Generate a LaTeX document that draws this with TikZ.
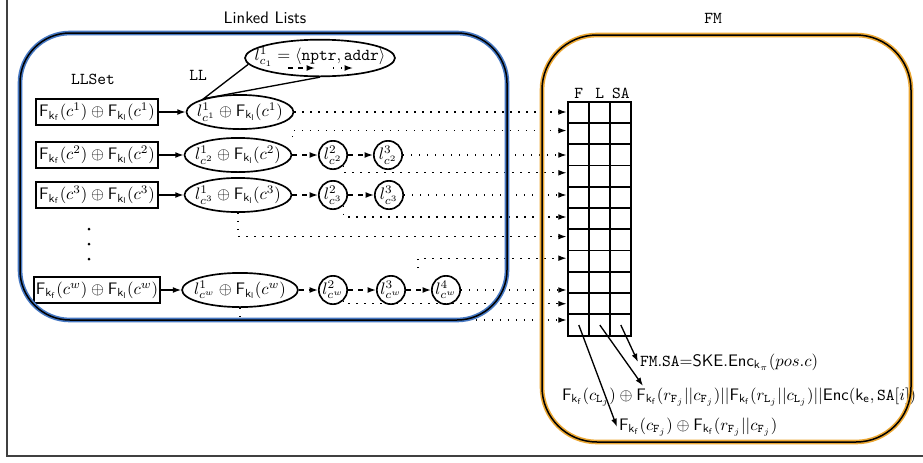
\documentclass[tikz,border=0pt]{standalone}
\usepackage{amsmath}
\usepackage{amsfonts}
\usepackage{tikz}
\usetikzlibrary{shapes.geometric,arrows.meta}

\definecolor{llblue}{RGB}{70,120,195}
\definecolor{fmorange}{RGB}{236,168,52}

\newcommand{\Fkf}{\mathsf{F}_{\mathsf{k}_{\mathsf{f}}}}
\newcommand{\Fkl}{\mathsf{F}_{\mathsf{k}_{\mathsf{l}}}}

\begin{document}
\begin{tikzpicture}[x=0.6pt,y=-0.6pt,>={Latex[length=5pt,width=3.5pt]},
    setbox/.style={draw,line width=1.1pt,minimum width=73pt,minimum height=16pt,inner sep=1pt},
    headnode/.style={ellipse,draw,line width=1pt,inner xsep=-3pt,inner ysep=0pt,minimum width=62pt,minimum height=20.5pt},
    listnode/.style={circle,draw,line width=1pt,inner sep=0pt,minimum size=17pt},
    cell/.style={draw,line width=1.1pt,minimum width=12.6pt,minimum height=12.76pt,inner sep=0pt,outer sep=0pt},
    link/.style={->,line width=0.8pt},
    nxt/.style={->,dashed,line width=0.8pt},
    ptr/.style={->,loosely dotted,line width=0.8pt,shorten >=1pt}]

  \useasboundingbox (0,0) rectangle (923,462);
  \draw[black!75,line width=0.7pt] (7,0) -- (7,456) -- (923,456);

  % titles
  \node (lltitle) at (265,18) {\textsf{Linked Lists}};
  \node (fmtitle) at (713,18) {\texttt{FM}};
  \node (llsettitle) at (93,79) {\texttt{LLSet}};
  \node (lltitle2) at (198,75) {\texttt{LL}};

  % LLSet entries
  \node[setbox] (b1) at (97,112) {$\Fkf(c^1)\oplus\Fkl(c^1)$};
  \node[setbox] (b2) at (97,155) {$\Fkf(c^2)\oplus\Fkl(c^2)$};
  \node[setbox] (b3) at (97,195) {$\Fkf(c^3)\oplus\Fkl(c^3)$};
  \node[setbox] (bw) at (97,290) {$\Fkf(c^w)\oplus\Fkl(c^w)$};
  \foreach \y in {229,244,259}
    \fill (89,\y) circle (0.9pt);

  % list heads
  \node[headnode] (e1) at (240,112) {$l^1_{c^1}\oplus\Fkl(c^1)$};
  \node[headnode] (e2) at (238,155) {$l^1_{c^2}\oplus\Fkl(c^2)$};
  \node[headnode] (e3) at (238,195) {$l^1_{c^3}\oplus\Fkl(c^3)$};
  \node[headnode] (ew) at (240,290) {$l^1_{c^w}\oplus\Fkl(c^w)$};

  % list nodes
  \node[listnode] (l22) at (333,155) {$l^2_{c^2}$};
  \node[listnode] (l23) at (388,155) {$l^3_{c^2}$};
  \node[listnode] (l32) at (333,195) {$l^2_{c^3}$};
  \node[listnode] (l33) at (389,195) {$l^3_{c^3}$};
  \node[listnode] (lw2) at (333,290) {$l^2_{c^w}$};
  \node[listnode] (lw3) at (391,290) {$l^3_{c^w}$};
  \node[listnode] (lw4) at (446,290) {$l^4_{c^w}$};
  \coordinate (lwgap) at (418,268);

  % node layout
  \node[ellipse,draw,line width=1pt,minimum width=90pt,minimum height=22pt,
        inner xsep=-8pt,inner ysep=-2pt,text depth=5pt] (callout) at (320,58)
        {$l^1_{c_1} = \langle\mathtt{nptr},\mathtt{addr}\rangle$};
  \coordinate (np1) at ([shift={(-32,10)}]callout.center);
  \coordinate (np2) at ([shift={(-5,10)}]callout.center);
  \coordinate (ad1) at ([shift={(13,10)}]callout.center);
  \coordinate (ad2) at ([shift={(33,10)}]callout.center);
  \draw[nxt] (np1) -- (np2);
  \draw[ptr,shorten >=0pt] (ad1) -- (ad2);
  \draw[line width=0.8pt] (callout.185) -- (e1.160) -- (callout.south);

  \draw[link] (b1) -- (e1);
  \draw[link] (b2) -- (e2);
  \draw[link] (b3) -- (e3);
  \draw[link] (bw) -- (ew);
  \draw[nxt] (e2) -- (l22);
  \draw[nxt] (l22) -- (l23);
  \draw[nxt] (e3) -- (l32);
  \draw[nxt] (l32) -- (l33);
  \draw[nxt] (ew) -- (lw2);
  \draw[nxt] (lw2) -- (lw3);
  \draw[nxt] (lw3) -- (lw4);

  % FM table
  \foreach \r in {1,...,11}
    \foreach \c in {1,2,3}
      \node[cell] (fm-\r-\c) at ({578.8+21*(\c-1)},{112.3+21.27*(\r-1)}) {};
  \node[anchor=south,inner sep=1.5pt] (hF) at (fm-1-1.north) {\texttt{F}};
  \node[anchor=south,inner sep=1.5pt] (hL) at (fm-1-2.north) {\texttt{L}};
  \node[anchor=south,inner sep=1.5pt] (hSA) at (fm-1-3.north) {\texttt{SA}};

  \draw[ptr] (e1) -- (e1 -| fm-1-1.west);
  \draw[ptr] (e2.north -| e2.east) |- ([yshift=1.8pt]fm-2-1.west);
  \draw[ptr] (l23) -- (l23 -| fm-3-1.west);
  \draw[ptr] (l22.south east) |- ([yshift=2pt]fm-4-1.west);
  \draw[ptr] (l33) -- (l33 -| fm-5-1.west);
  \draw[ptr] (l32.south east) |- ([yshift=1pt]fm-6-1.west);
  \draw[ptr] (e3.south) |- ([yshift=2pt]fm-7-1.west);
  \draw[ptr] (lwgap) |- ([yshift=1.8pt]fm-8-1.west);
  \draw[ptr] (lw4) -- (lw4 -| fm-9-1.west);
  \draw[ptr] (lw2.south east) |- (fm-10-1.west);
  \draw[ptr] (ew.south) |- ([yshift=3pt]fm-11-1.west);

  % entry contents
  \node[anchor=west,inner sep=1pt] (saenc) at (638,362)
    {$\mathtt{FM.SA}{=}\mathsf{SKE.Enc}_{\mathsf{k}_\pi}(pos.c)$};
  \node[anchor=west,inner sep=1pt] (lentry) at (560,397)
    {$\Fkf(c_{\mathtt{L}_j})\oplus\Fkf(r_{\mathtt{F}_j}||c_{\mathtt{F}_j})||\Fkf(r_{\mathtt{L}_j}||c_{\mathtt{L}_j})||\mathsf{Enc}(\mathsf{k}_\mathsf{e},\mathtt{SA}[i])$};
  \node[anchor=west,inner sep=1pt] (fentry) at (617,427)
    {$\Fkf(c_{\mathtt{F}_j})\oplus\Fkf(r_{\mathtt{F}_j}||c_{\mathtt{F}_j})$};
  \coordinate (ltip) at ([xshift=49.8pt]lentry.north west);
  \draw[link] (fm-11-1.center) -- (fentry.west);
  \draw[link] (fm-11-2.center) -- (ltip);
  \draw[link] (fm-11-3.center) -- (saenc.west);

  % containers
  \draw[llblue,line width=2.8pt,rounded corners=30pt] (20,33) rectangle (507,320);
  \draw[line width=0.9pt,rounded corners=30pt] (20,33) rectangle (507,320);
  \draw[fmorange,line width=2.8pt,rounded corners=33pt] (542,35) rectangle (911,442);
  \draw[line width=0.9pt,rounded corners=33pt] (542,35) rectangle (911,442);
\end{tikzpicture}
\end{document}
